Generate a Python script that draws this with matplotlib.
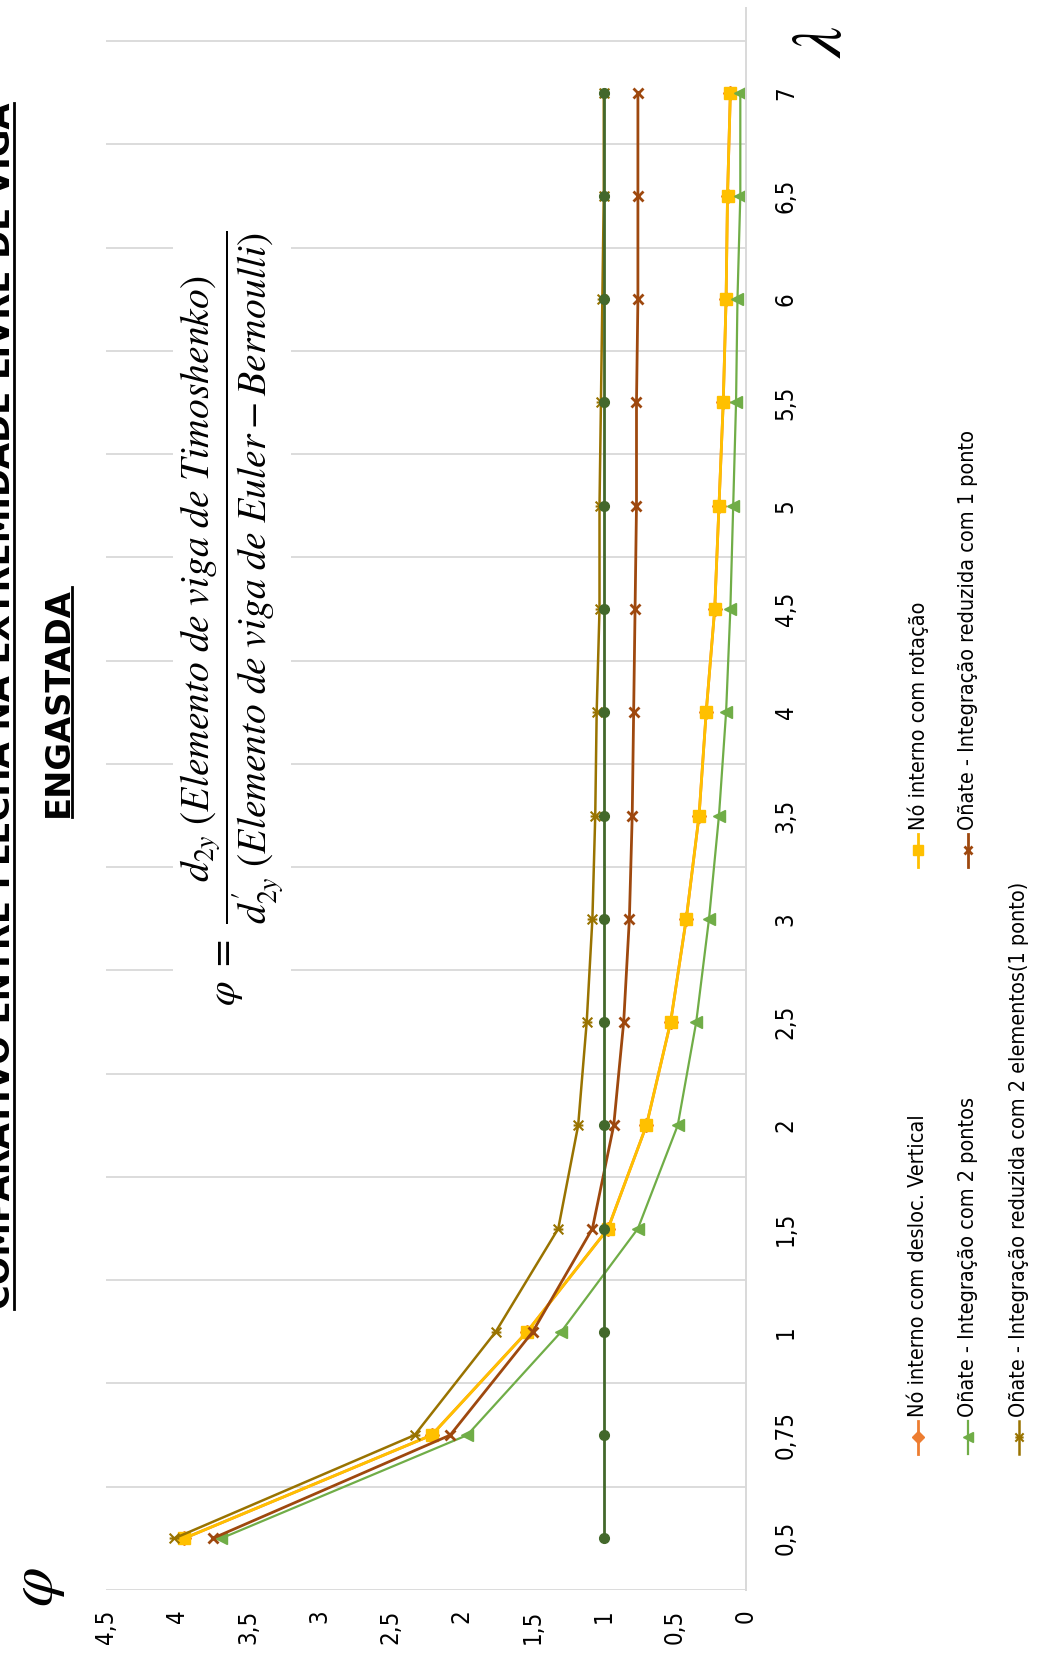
import matplotlib; matplotlib.use('Agg')
import matplotlib.pyplot as plt
import numpy as np
from matplotlib import font_manager
from matplotlib.lines import Line2D
from matplotlib.path import Path

#############################################################################
lam_labels = ['0,5', '0,75', '1', '1,5', '2', '2,5', '3', '3,5', '4', '4,5',
              '5', '5,5', '6', '6,5', '7']
phi_ticks = [0, 0.5, 1, 1.5, 2, 2.5, 3, 3.5, 4, 4.5]
phi_labels = ['0', '0,5', '1', '1,5', '2', '2,5', '3', '3,5', '4', '4,5']

no_desloc = [3.95, 2.21, 1.54, 0.97, 0.70, 0.53, 0.42, 0.33, 0.28, 0.22, 0.19, 0.16, 0.14, 0.13, 0.11]
no_rotacao = [3.95, 2.21, 1.54, 0.97, 0.70, 0.53, 0.42, 0.33, 0.28, 0.22, 0.19, 0.16, 0.14, 0.13, 0.11]
onate_2p = [3.69, 1.96, 1.30, 0.76, 0.48, 0.35, 0.26, 0.19, 0.14, 0.11, 0.09, 0.07, 0.06, 0.04, 0.04]
onate_1p = [3.75, 2.08, 1.50, 1.08, 0.93, 0.86, 0.82, 0.80, 0.79, 0.78, 0.77, 0.77, 0.76, 0.76, 0.76]
onate_2el = [4.02, 2.33, 1.76, 1.32, 1.18, 1.12, 1.08, 1.06, 1.05, 1.03, 1.03, 1.02, 1.01, 1.00, 1.00]
referencia = [1, 1, 1, 1, 1, 1, 1, 1, 1, 1, 1, 1, 1, 1, 1]

nomes = ['Nó interno com desloc. Vertical',
         'Nó interno com rotação',
         'Oñate - Integração com 2 pontos',
         'Oñate - Integração reduzida com 1 ponto',
         'Oñate - Integração reduzida com 2 elementos(1 ponto)']
#############################################################################

W, H = 1038, 1659
def fx(px): return px / float(W)
def fy(py): return 1 - py / float(H)

fl = font_manager.fontManager.ttflist
avail = set(f.name for f in fl)
cond = [f for f in fl if f.name == 'DejaVu Sans' and str(f.stretch) in ('condensed', 'semi-condensed', '400', '500')]
plt.rcParams['mathtext.fontset'] = 'stix'
if 'Liberation Sans Narrow' in avail:
    plt.rcParams['font.family'] = ['Liberation Sans Narrow', 'DejaVu Sans']
    stretch = 'normal'
    k = 1.1
elif cond:
    plt.rcParams['font.family'] = ['DejaVu Sans']
    stretch = 'condensed'
    k = 1.08
else:
    plt.rcParams['font.family'] = ['DejaVu Sans']
    stretch = 'normal'
    k = 1.0

# excel style star (x plus a bar), already turned with the chart
star = Path([(-1, -1), (1, 1), (-1, 1), (1, -1), (-1, 0), (1, 0)],
            [Path.MOVETO, Path.LINETO, Path.MOVETO, Path.LINETO, Path.MOVETO, Path.LINETO])

estilos = [dict(color='#ED7D31', marker='D', ms=7, lw=2.0),
           dict(color='#FFC000', marker='s', ms=8, lw=2.0),
           dict(color='#70AD47', marker='<', ms=8, lw=1.6),
           dict(color='#9E480E', marker='x', ms=7, mew=2.0, lw=2.0),
           dict(color='#997300', marker=star, ms=7, mew=1.5, lw=1.8),
           dict(color='#43682B', marker='o', ms=7, lw=2.0)]

fig = plt.figure(figsize=(W / 100., H / 100.), dpi=100)
ax = fig.add_axes([fx(106), fy(1590), fx(746) - fx(106), fy(8) - fy(1590)])

pos = np.arange(len(lam_labels))
series = [no_desloc, no_rotacao, onate_2p, onate_1p, onate_2el, referencia]
for vals, st in zip(series, estilos):
    ax.plot(vals, pos, **st)

ax.set_xlim(4.5, 0)
ax.set_ylim(-0.5, 14.82)
for s in ['left', 'top', 'bottom']:
    ax.spines[s].set_visible(False)
ax.spines['right'].set_color('#D9D9D9')
ax.spines['right'].set_linewidth(1.4)

ax.set_yticks(pos)
ax.set_yticks(np.arange(-0.5, 15, 1), minor=True)
ax.yaxis.tick_right()
ax.grid(which='minor', axis='y', color='#D9D9D9', linewidth=1.3)
ax.set_axisbelow(True)
ax.tick_params(axis='y', which='both', length=0, pad=20, labelsize=16 * k, labelrotation=90)
ax.set_yticklabels(lam_labels)
for lbl in ax.get_yticklabels():
    lbl.set_va('center')
    lbl.set_fontstretch(stretch)

ax.set_xticks(phi_ticks)
ax.set_xticklabels(phi_labels)
ax.tick_params(axis='x', length=0, pad=14, labelsize=16 * k, labelrotation=90)
for lbl in ax.get_xticklabels():
    lbl.set_fontstretch(stretch)

# axis symbols
fig.text(fx(822), fy(42), r'$\lambda$', rotation=90, ha='center', va='center', fontsize=50)
fig.text(fx(36), fy(1587), r'$\varphi$', rotation=90, ha='center', va='center', fontsize=46)

# formula
formula = (r'$\varphi\ =\ \dfrac{d_{2y}\ (Elemento\ de\ viga\ de\ Timoshenko)}'
           r'{d^{\prime}_{2y}\ (Elemento\ de\ viga\ de\ Euler - Bernoulli)}$')
fig.text(fx(232), fy(618), formula, rotation=90, ha='center', va='center', fontsize=28.5,
         bbox=dict(facecolor='white', edgecolor='none', pad=4))

# title, two lines, underlined
t1 = fig.text(fx(10), fy(706), 'COMPARATIVO ENTRE FLECHA NA EXTREMIDADE LIVRE DE VIGA',
              rotation=90, rotation_mode='anchor', ha='center', va='baseline',
              fontsize=24.3, fontweight='bold', family='DejaVu Sans')
t2 = fig.text(fx(68), fy(702), 'ENGASTADA', rotation=90, rotation_mode='anchor',
              ha='center', va='baseline', fontsize=24.3, fontweight='bold', family='DejaVu Sans')

# legend (turned with the chart)
leg_pos = [(918, 1417), (918, 830), (968, 1417), (968, 830), (1019, 1417)]
for (cx, sy), nome, st in zip(leg_pos, nomes, estilos[:5]):
    st2 = dict(st)
    st2['ms'] = st['ms'] * 0.85
    ln = Line2D([fx(cx)] * 3, [fy(sy + 4), fy(sy + 20), fy(sy + 37)],
                transform=fig.transFigure, markevery=[1], **st2)
    fig.add_artist(ln)
    fig.text(fx(cx), fy(sy), nome, rotation=90, rotation_mode='anchor',
             ha='left', va='center', fontsize=14.3 * k, fontstretch=stretch)

fig.canvas.draw()
r = fig.canvas.get_renderer()
for t, bx in [(t1, 10), (t2, 68)]:
    bb = t.get_window_extent(r)
    ul = Line2D([fx(bx + 4), fx(bx + 4)], [bb.y0 / H, bb.y1 / H],
                transform=fig.transFigure, color='black', linewidth=2.0)
    fig.add_artist(ul)

fig.savefig('out.png', dpi=100)
